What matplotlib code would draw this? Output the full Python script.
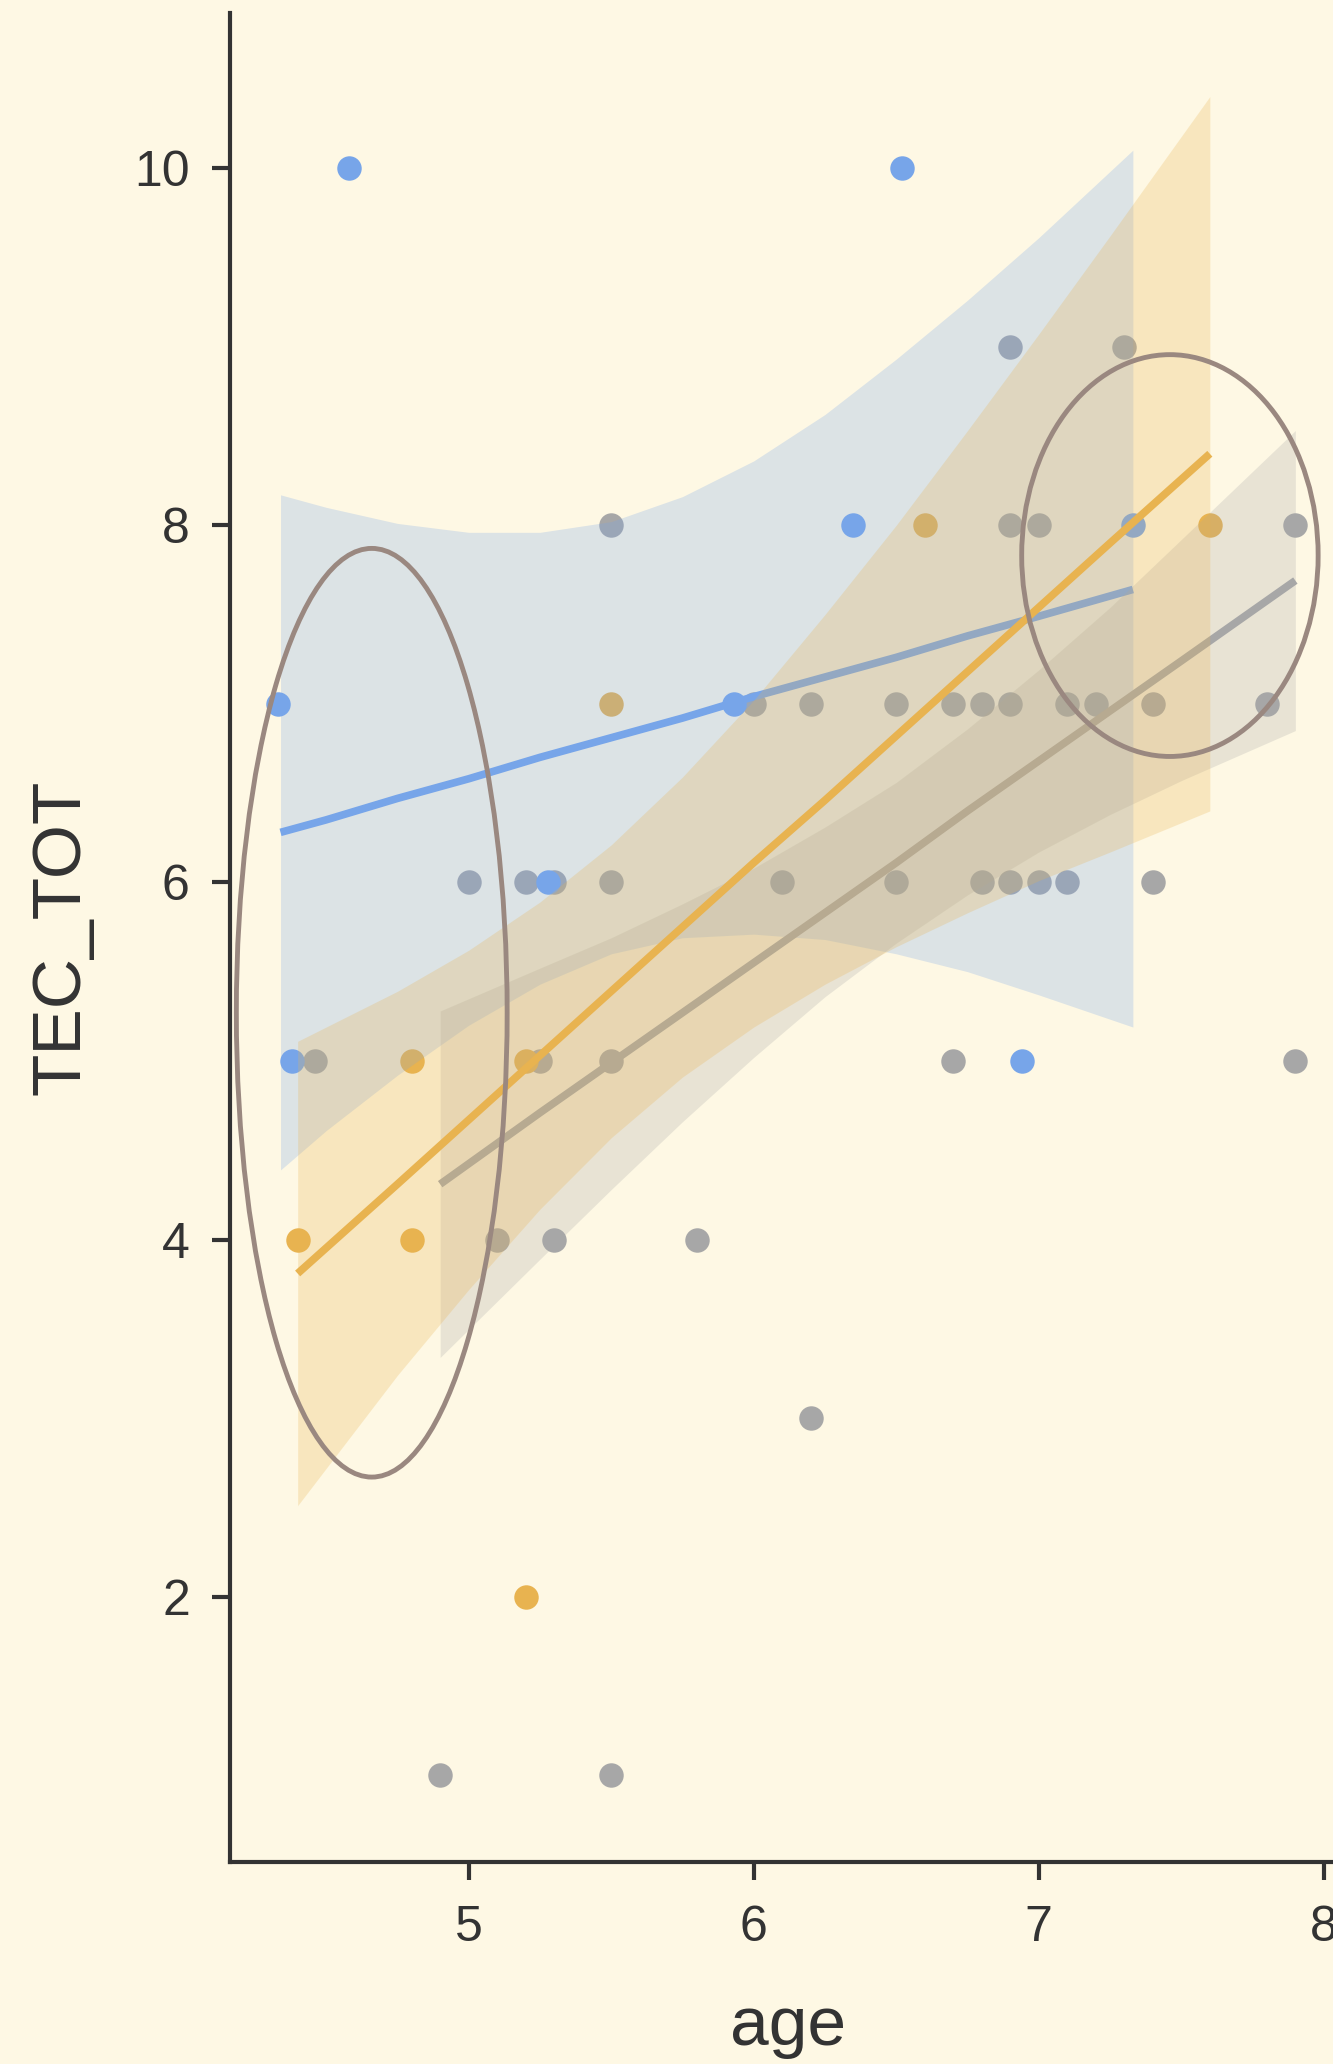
import matplotlib
matplotlib.use("Agg")
import matplotlib.pyplot as plt
from matplotlib.patches import Ellipse
import numpy as np

plt.rcParams['font.family'] = ['Liberation Sans', 'DejaVu Sans']

# scatter points, one set per group
blue_age = [4.58, 6.52, 6.35, 7.33, 4.33, 5.93, 5.28, 4.38, 6.94]
blue_tec = [10, 10, 8, 8, 7, 7, 6, 5, 5]

orange_age = [6.60, 7.60, 5.50, 4.80, 5.20, 4.40, 4.80, 5.20]
orange_tec = [8, 8, 7, 5, 5, 4, 4, 2]

gray_age = [6.90, 7.30, 5.50, 6.90, 7.00, 7.90,
            6.00, 6.20, 6.50, 6.70, 6.80, 6.90, 7.10, 7.20, 7.40, 7.80,
            5.00, 5.20, 5.30, 5.50, 6.10, 6.50, 6.80, 6.90, 7.00, 7.10, 7.40,
            4.46, 5.25, 5.50, 6.70, 7.90,
            5.10, 5.30, 5.80, 6.20, 4.90, 5.50]
gray_tec = [9, 9, 8, 8, 8, 8,
            7, 7, 7, 7, 7, 7, 7, 7, 7, 7,
            6, 6, 6, 6, 6, 6, 6, 6, 6, 6, 6,
            5, 5, 5, 5, 5,
            4, 4, 4, 3, 1, 1]

# linear fits with 95% band (age, fit, lower, upper)
blue_fx = [4.34, 4.50, 4.75, 5.00, 5.25, 5.50, 5.75, 6.00, 6.25, 6.50, 6.75, 7.00, 7.33]
blue_fit = [6.28, 6.35, 6.47, 6.58, 6.70, 6.81, 6.92, 7.04, 7.15, 7.26, 7.38, 7.49, 7.64]
blue_lo = [4.39, 4.61, 4.92, 5.20, 5.43, 5.60, 5.69, 5.71, 5.68, 5.60, 5.50, 5.37, 5.19]
blue_hi = [8.17, 8.10, 8.01, 7.96, 7.96, 8.02, 8.16, 8.36, 8.62, 8.93, 9.26, 9.61, 10.10]

gray_fx = [4.90, 5.25, 5.50, 5.75, 6.00, 6.25, 6.50, 6.75, 7.00, 7.25, 7.50, 7.90]
gray_fit = [4.31, 4.71, 4.99, 5.27, 5.55, 5.83, 6.11, 6.40, 6.68, 6.96, 7.24, 7.69]
gray_lo = [3.34, 3.89, 4.28, 4.66, 5.02, 5.36, 5.66, 5.93, 6.17, 6.38, 6.57, 6.85]
gray_hi = [5.28, 5.52, 5.69, 5.88, 6.08, 6.31, 6.56, 6.86, 7.19, 7.54, 7.92, 8.53]

orange_fx = [4.40, 4.75, 5.00, 5.25, 5.50, 5.75, 6.00, 6.25, 6.50, 6.75, 7.00, 7.25, 7.60]
orange_fit = [3.81, 4.31, 4.67, 5.03, 5.39, 5.75, 6.11, 6.46, 6.82, 7.18, 7.54, 7.90, 8.40]
orange_lo = [2.51, 3.24, 3.72, 4.17, 4.57, 4.91, 5.19, 5.43, 5.64, 5.83, 6.01, 6.17, 6.40]
orange_hi = [5.11, 5.39, 5.62, 5.89, 6.21, 6.59, 7.02, 7.50, 8.00, 8.53, 9.07, 9.62, 10.40]

BG = '#fef8e4'
BLUE = '#77a5e9'
ORANGE = '#e8b350'
GRAY = '#a7a7a7'
INK = '#333333'

fig = plt.figure(figsize=(13.33, 20.64), dpi=100, facecolor=BG)
ax = fig.add_axes([0.1726, 0.0979, 0.837, 0.8958], facecolor=BG)

for xs, ys, c in [(gray_age, gray_tec, GRAY), (orange_age, orange_tec, ORANGE),
                  (blue_age, blue_tec, BLUE)]:
    ax.scatter(xs, ys, s=310, color=c, linewidths=0, zorder=1)

fits = [(blue_fx, blue_fit, blue_lo, blue_hi, BLUE),
        (gray_fx, gray_fit, gray_lo, gray_hi, GRAY),
        (orange_fx, orange_fit, orange_lo, orange_hi, ORANGE)]
z = 2
for fx, fit, lo, hi, c in fits:
    ax.fill_between(fx, lo, hi, color=c, alpha=0.25, linewidth=0, zorder=z)
    ax.plot(fx, fit, color=c, lw=5.5, solid_capstyle='butt', zorder=z + 1)
    z += 2

# highlighted regions
ring = '#9a8880'
ax.add_patch(Ellipse((4.66, 5.27), 0.95, 5.20, fill=False, ec=ring, lw=3.5, zorder=10))
ax.add_patch(Ellipse((7.46, 7.83), 1.04, 2.25, fill=False, ec=ring, lw=3.5, zorder=10))

ax.set_xlim(4.163, 8.077)
ax.set_ylim(0.515, 10.868)
ax.set_xticks([5, 6, 7, 8])
ax.set_yticks([2, 4, 6, 8, 10])

for side in ['top', 'right']:
    ax.spines[side].set_visible(False)
for side in ['left', 'bottom']:
    ax.spines[side].set_linewidth(3)
    ax.spines[side].set_color(INK)
ax.tick_params(axis='both', length=13, width=3, color=INK,
               labelsize=36, labelcolor=INK)
ax.tick_params(axis='x', pad=18)
ax.tick_params(axis='y', pad=16)

ax.set_xlabel('age', fontsize=50, color=INK, labelpad=32)
ax.set_ylabel('TEC_TOT', fontsize=50, color=INK, labelpad=29)

fig.savefig('out.png', dpi=100, facecolor=BG)
